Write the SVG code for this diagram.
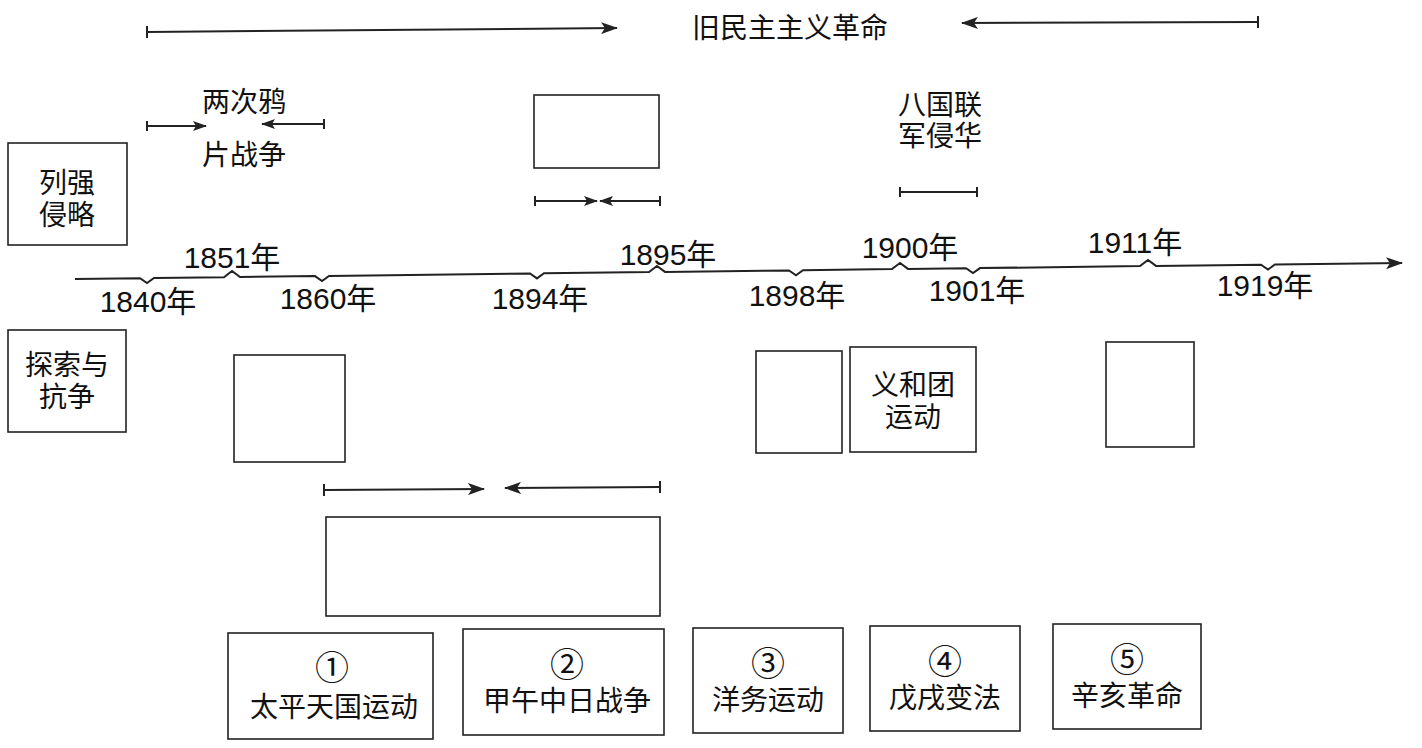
<svg xmlns="http://www.w3.org/2000/svg" width="1422" height="748" viewBox="0 0 1422 748">
<style>
.box{fill:#fff;stroke:#222;stroke-width:1.6}
.t{font-family:"Liberation Sans","Noto Sans CJK SC",sans-serif;font-size:28px;fill:#111;text-anchor:middle}
.c{font-family:"Noto Sans CJK SC","Liberation Sans",sans-serif;font-size:34px;fill:#111;text-anchor:middle}
.yr{font-family:"Liberation Sans","Noto Sans CJK SC",sans-serif;font-size:30px;fill:#111;text-anchor:middle}
.ln{stroke:#222;stroke-width:2;fill:none}
.tk{stroke:#222;stroke-width:2;fill:none}
</style>
<defs>
<marker id="ah" markerUnits="userSpaceOnUse" markerWidth="18" markerHeight="12" refX="16" refY="6" orient="auto">
<path d="M0,0 L17,6 L0,12 L4,6 Z" fill="#222"/>
</marker>
<marker id="ahs" markerUnits="userSpaceOnUse" markerWidth="14" markerHeight="10" refX="13" refY="5" orient="auto">
<path d="M0,0 L14,5 L0,10 L3,5 Z" fill="#222"/>
</marker>
</defs>
<rect width="1422" height="748" fill="#fff"/>

<g id="connectors">
<line class="ln" x1="147" y1="32" x2="617" y2="28" marker-end="url(#ah)"/>
<line class="tk" x1="147" y1="26" x2="147" y2="38"/>
<line class="ln" x1="1258" y1="22" x2="962" y2="23" marker-end="url(#ah)"/>
<line class="tk" x1="1258" y1="16" x2="1258" y2="28"/>
<line class="ln" x1="147" y1="126" x2="206" y2="126" marker-end="url(#ahs)" stroke-width="1.6"/>
<line class="tk" x1="147" y1="121" x2="147" y2="131"/>
<line class="ln" x1="324" y1="124" x2="262" y2="124" marker-end="url(#ahs)" stroke-width="1.6"/>
<line class="tk" x1="324" y1="119" x2="324" y2="129"/>
<line class="ln" x1="535" y1="201" x2="597" y2="201" marker-end="url(#ahs)" stroke-width="1.6"/>
<line class="tk" x1="535" y1="196" x2="535" y2="206"/>
<line class="ln" x1="660" y1="201" x2="600" y2="201" marker-end="url(#ahs)" stroke-width="1.6"/>
<line class="tk" x1="660" y1="196" x2="660" y2="206"/>
<line class="ln" x1="900" y1="192" x2="977" y2="192" stroke-width="1.6"/>
<line class="tk" x1="900" y1="187" x2="900" y2="197"/>
<line class="tk" x1="977" y1="187" x2="977" y2="197"/>
<line class="ln" x1="324" y1="490" x2="484" y2="489" marker-end="url(#ah)"/>
<line class="tk" x1="324" y1="484" x2="324" y2="496"/>
<line class="ln" x1="660" y1="487" x2="505" y2="488" marker-end="url(#ah)"/>
<line class="tk" x1="660" y1="481" x2="660" y2="493"/>
<path class="ln" stroke-width="2.6" marker-end="url(#ah)" d="M75,279 L140,278.2 L147,283 L154,278 L224,277.2 L232,271 L240,277 L315,276.1 L322,281 L329,275.9 L530,273.5 L537,278.4 L544,273.3 L649,272.1 L657,266 L665,271.9 L789,270.4 L796,275.3 L803,270.2 L892,269.1 L900,263 L908,268.9 L966,268.2 L973,273 L980,268.1 L1140,266.1 L1148,260 L1156,265.9 L1261,264.7 L1268,269.5 L1275,264.5 L1402,263"/>
</g>

<g id="title"><text class="t" x="790" y="38">旧民主主义革命</text></g>

<g id="lieqiang">
<rect class="box" x="8" y="143" width="119" height="102"/>
<text class="t" x="67" y="193">列强</text>
<text class="t" x="67" y="225">侵略</text>
</g>
<g id="tansuo">
<rect class="box" x="8" y="330" width="118" height="102"/>
<text class="t" x="67" y="375">探索与</text>
<text class="t" x="67" y="407">抗争</text>
</g>

<g id="opium"><text class="t" x="244" y="112">两次鸦</text><text class="t" x="244" y="165">片战争</text></g>
<g id="box-1894"><rect class="box" x="534" y="95" width="125" height="73"/></g>
<g id="baguo"><text class="t" x="940" y="115">八国联</text><text class="t" x="940" y="146">军侵华</text></g>

<g id="years">
<text class="yr" x="148" y="312">1840年</text>
<text class="yr" x="232" y="268">1851年</text>
<text class="yr" x="328" y="309">1860年</text>
<text class="yr" x="540" y="309">1894年</text>
<text class="yr" x="668" y="265">1895年</text>
<text class="yr" x="797" y="306">1898年</text>
<text class="yr" x="910" y="258">1900年</text>
<text class="yr" x="977" y="301">1901年</text>
<text class="yr" x="1135" y="253">1911年</text>
<text class="yr" x="1265" y="296">1919年</text>
</g>

<g id="box-a"><rect class="box" x="234" y="355" width="111" height="107"/></g>
<g id="box-b"><rect class="box" x="756" y="351" width="86" height="102"/></g>
<g id="yihetuan">
<rect class="box" x="850" y="347" width="126" height="105"/>
<text class="t" x="913" y="395">义和团</text>
<text class="t" x="913" y="427">运动</text>
</g>
<g id="box-c"><rect class="box" x="1106" y="342" width="88" height="105"/></g>
<g id="box-big"><rect class="box" x="326" y="517" width="334" height="99"/></g>

<g id="opt1"><rect class="box" x="228" y="633" width="205" height="106"/>
<text class="c" x="332" y="680">①</text><text class="t" x="334" y="717">太平天国运动</text></g>
<g id="opt2"><rect class="box" x="463" y="629" width="201" height="106"/>
<text class="c" x="567" y="677">②</text><text class="t" x="567" y="711">甲午中日战争</text></g>
<g id="opt3"><rect class="box" x="693" y="628" width="150" height="105"/>
<text class="c" x="768" y="676">③</text><text class="t" x="768" y="710">洋务运动</text></g>
<g id="opt4"><rect class="box" x="870" y="626" width="150" height="105"/>
<text class="c" x="945" y="674">④</text><text class="t" x="945" y="708">戊戌变法</text></g>
<g id="opt5"><rect class="box" x="1053" y="624" width="148" height="105"/>
<text class="c" x="1127" y="672">⑤</text><text class="t" x="1127" y="706">辛亥革命</text></g>
</svg>
